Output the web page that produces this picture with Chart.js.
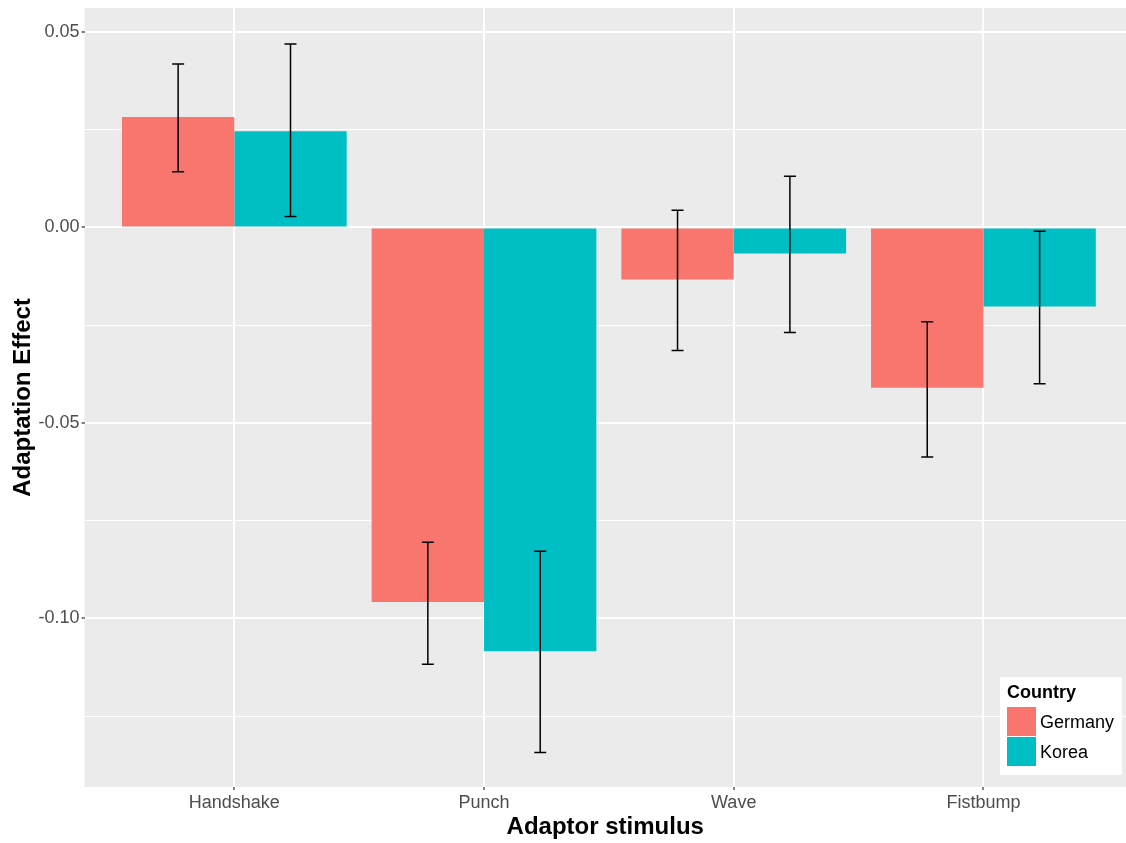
<!DOCTYPE html>
<html>
<head>
<meta charset="utf-8">
<script src="https://cdn.jsdelivr.net/npm/chart.js@4.4.0/dist/chart.umd.min.js"></script>
<style>
  html, body { margin: 0; padding: 0; background: #ffffff; }
  #wrap { width: 1126px; height: 843px; }
</style>
</head>
<body>
<div id="wrap"><canvas id="c" width="1126" height="843"></canvas></div>
<script>
// ---- Data ----
const categories = ['Handshake', 'Punch', 'Wave', 'Fistbump'];
const seriesNames = ['Germany', 'Korea'];
const germanyValues = [0.0282, -0.0958, -0.0133, -0.0410];
const koreaValues   = [0.0246, -0.1084, -0.0067, -0.0202];
const germanyErrLow  = [0.0142, -0.1117, -0.0315, -0.0587];
const germanyErrHigh = [0.0418, -0.0805,  0.0044, -0.0241];
const koreaErrLow    = [0.0028, -0.1343, -0.0269, -0.0400];
const koreaErrHigh   = [0.0469, -0.0828,  0.0131, -0.0010];
const yTickValues = [0.05, 0.00, -0.05, -0.10];

const FONT = "'Liberation Sans', Arial, sans-serif";
const colors = ['#F8766D', '#00BFC4'];

function toPoints(vals) { return vals.map((v, i) => ({ x: i + 1, y: v })); }

const errorData = [
  { low: germanyErrLow, high: germanyErrHigh },
  { low: koreaErrLow, high: koreaErrHigh }
];

function isMajorY(v) {
  return yTickValues.some(t => Math.abs(t - v) < 1e-9);
}

const bgPlugin = {
  id: 'panelBg',
  beforeDraw(chart) {
    const { ctx, chartArea: a } = chart;
    ctx.save();
    ctx.fillStyle = '#EBEBEB';
    ctx.fillRect(a.left, a.top, a.right - a.left, a.bottom - a.top);
    ctx.restore();
  }
};

const errorBarPlugin = {
  id: 'errorBars',
  afterDatasetsDraw(chart) {
    const { ctx } = chart;
    const yScale = chart.scales.y;
    ctx.save();
    ctx.strokeStyle = '#000000';
    ctx.lineWidth = 1.5;
    chart.data.datasets.forEach((ds, di) => {
      const meta = chart.getDatasetMeta(di);
      meta.data.forEach((bar, i) => {
        const x = bar.x;
        const yl = yScale.getPixelForValue(errorData[di].low[i]);
        const yh = yScale.getPixelForValue(errorData[di].high[i]);
        const half = 6;
        ctx.beginPath();
        ctx.moveTo(x, yl); ctx.lineTo(x, yh);
        ctx.moveTo(x - half, yl); ctx.lineTo(x + half, yl);
        ctx.moveTo(x - half, yh); ctx.lineTo(x + half, yh);
        ctx.stroke();
      });
    });
    ctx.restore();
  }
};

const legendPlugin = {
  id: 'ggLegend',
  afterDraw(chart) {
    const { ctx } = chart;
    ctx.save();
    const bx = 1000, by = 677, bw = 122, bh = 98;
    ctx.fillStyle = '#FFFFFF';
    ctx.fillRect(bx, by, bw, bh);
    ctx.fillStyle = '#000000';
    ctx.font = 'bold 18px ' + FONT;
    ctx.textBaseline = 'middle';
    ctx.textAlign = 'left';
    ctx.fillText('Country', 1007, 693);
    chart.data.datasets.forEach((ds, i) => {
      const ky = 707 + i * 30;
      ctx.fillStyle = ds.backgroundColor;
      ctx.fillRect(1007, ky, 29, 29);
      ctx.fillStyle = '#000000';
      ctx.font = '18px ' + FONT;
      ctx.fillText(ds.label, 1040, ky + 16);
    });
    ctx.restore();
  }
};

new Chart(document.getElementById('c'), {
  type: 'bar',
  data: {
    datasets: [
      { label: seriesNames[0], data: toPoints(germanyValues), backgroundColor: colors[0], borderWidth: 0 },
      { label: seriesNames[1], data: toPoints(koreaValues), backgroundColor: colors[1], borderWidth: 0 }
    ]
  },
  options: {
    responsive: false,
    devicePixelRatio: 1,
    animation: false,
    categoryPercentage: 0.9,
    barPercentage: 1.0,
    layout: { padding: { top: 8, right: 0, bottom: 0, left: 0 } },
    plugins: {
      legend: { display: false },
      title: { display: false },
      tooltip: { enabled: false }
    },
    scales: {
      x: {
        type: 'linear',
        min: 0.4,
        max: 4.571,
        offset: false,
        border: { display: false },
        grid: {
          offset: false,
          color: '#FFFFFF',
          lineWidth: 2,
          tickColor: '#333333',
          tickWidth: 1.2,
          tickLength: 3,
          drawOnChartArea: true
        },
        ticks: {
          stepSize: 1,
          includeBounds: false,
          autoSkip: false,
          maxRotation: 0,
          padding: 2,
          color: '#4D4D4D',
          font: { family: FONT, size: 18 },
          callback: (v) => {
            const idx = Math.round(v) - 1;
            return categories[idx] !== undefined ? categories[idx] : '';
          }
        },
        title: {
          display: true,
          text: 'Adaptor stimulus',
          color: '#000000',
          font: { family: FONT, size: 24, weight: 'bold', lineHeight: 1.2 },
          padding: { top: 0, bottom: 1 }
        },
        afterFit: (s) => { s.height = 56; s.paddingLeft = 0; s.paddingRight = 0; }
      },
      y: {
        type: 'linear',
        min: -0.1431,
        max: 0.0561,
        border: { display: false },
        grid: {
          color: '#FFFFFF',
          lineWidth: (ctx) => (ctx.tick && isMajorY(ctx.tick.value) ? 2 : 1.1),
          tickColor: (ctx) => (ctx.tick && isMajorY(ctx.tick.value) ? '#333333' : 'rgba(0,0,0,0)'),
          tickWidth: 1.2,
          tickLength: 3
        },
        ticks: {
          stepSize: 0.025,
          includeBounds: false,
          autoSkip: false,
          padding: 2,
          color: '#4D4D4D',
          font: { family: FONT, size: 18 },
          callback: (v) => {
            if (!isMajorY(v)) return '';
            if (Math.abs(v) < 1e-9) return '0.00';
            return v.toFixed(2);
          }
        },
        title: {
          display: true,
          text: 'Adaptation Effect',
          color: '#000000',
          font: { family: FONT, size: 24, weight: 'bold', lineHeight: 1.2 },
          padding: { top: 9, bottom: 0 }
        },
        afterFit: (s) => { s.width = 84.5; s.paddingTop = 0; s.paddingBottom = 0; }
      }
    }
  },
  plugins: [bgPlugin, errorBarPlugin, legendPlugin]
});
</script>
</body>
</html>
